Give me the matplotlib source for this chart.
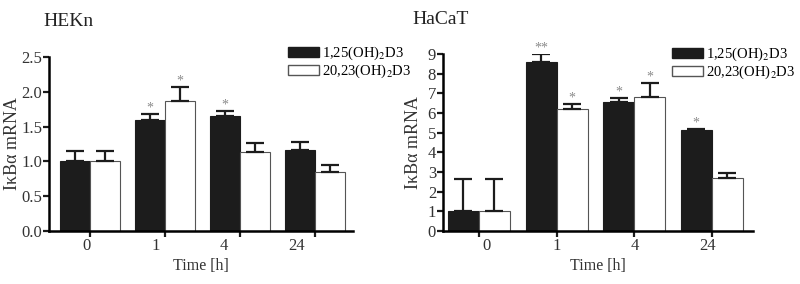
import matplotlib.pyplot as plt
from matplotlib.patches import Patch
import numpy as np

plt.rcParams['font.family'] = ['Liberation Serif', 'DejaVu Serif']
plt.rcParams['mathtext.fontset'] = 'stix'

times = ['0', '1', '4', '24']
series = ['1,25(OH)$_2$D3', '20,23(OH)$_2$D3']

hekn_d125 = [1.0, 1.60, 1.65, 1.16]
hekn_d125_err = [0.15, 0.08, 0.07, 0.12]
hekn_d2023 = [1.0, 1.87, 1.13, 0.85]
hekn_d2023_err = [0.15, 0.20, 0.14, 0.10]
hekn_stars_125 = ['', '*', '*', '']
hekn_stars_2023 = ['', '*', '', '']

hacat_d125 = [1.0, 8.58, 6.58, 5.15]
hacat_d125_err = [1.65, 0.42, 0.17, 0.06]
hacat_d2023 = [1.0, 6.2, 6.8, 2.67]
hacat_d2023_err = [1.65, 0.28, 0.74, 0.28]
hacat_stars_125 = ['', '**', '*', '*']
hacat_stars_2023 = ['', '*', '*', '']

fig = plt.figure(figsize=(8, 2.84), dpi=100)


def panel(rect, title, title_xy, ylab_x, v1, e1, v2, e2, s1, s2, ymax, yticks, yfmt, xlim, leg_xy,
          star_off, label_shift):
    ax = fig.add_axes(rect)
    x = np.arange(len(times))
    w = 0.4
    ax.bar(x - w / 2, v1, w, color='#1c1c1c', edgecolor='#1c1c1c', linewidth=0.8, zorder=2)
    ax.bar(x + w / 2, v2, w, color='white', edgecolor='#555555', linewidth=0.8, zorder=2)
    ax.errorbar(x - w / 2, v1, yerr=[np.zeros(4), e1], fmt='none', ecolor='#1c1c1c',
                elinewidth=1.6, capsize=6.5, capthick=1.6, zorder=3)
    ax.errorbar(x + w / 2, v2, yerr=[np.zeros(4), e2], fmt='none', ecolor='#1c1c1c',
                elinewidth=1.6, capsize=6.5, capthick=1.6, zorder=3)
    for i in range(4):
        if s1[i]:
            ax.text(x[i] - w / 2, v1[i] + e1[i] + star_off, s1[i], ha='center', va='center',
                    color='#8a8a8a', fontsize=10)
        if s2[i]:
            ax.text(x[i] + w / 2, v2[i] + e2[i] + star_off, s2[i], ha='center', va='center',
                    color='#8a8a8a', fontsize=10)
    ax.set_xlim(*xlim)
    ax.set_ylim(0, ymax)
    ax.set_yticks(yticks)
    ax.set_yticklabels([yfmt.format(t) for t in yticks], fontsize=12)
    # tick marks at the group centres, labels slightly offset as in the scanned figure
    ax.set_xticks(x)
    ax.set_xticklabels([])
    ax.set_xticks(x + np.array(label_shift), minor=True)
    ax.set_xticklabels(times, minor=True, fontsize=12)
    ax.spines['top'].set_visible(False)
    ax.spines['right'].set_visible(False)
    ax.spines['left'].set_linewidth(1.8)
    ax.spines['bottom'].set_linewidth(1.8)
    ax.tick_params(axis='both', direction='out', length=4, width=1.6, pad=1, colors='#1c1c1c',
                   labelcolor='#333333')
    ax.tick_params(axis='x', which='minor', length=0, pad=5, labelcolor='#333333')
    ax.set_xlabel('Time [h]', fontsize=11.5, labelpad=3, color='#333333')
    fig.text(ylab_x, rect[1] + rect[3] / 2, 'I\u03baB\u03b1 mRNA', rotation=90, ha='center',
             va='center', fontsize=13, color='#333333')
    fig.text(title_xy[0], title_xy[1], title, fontsize=14, ha='left', va='center', color='#222222')
    handles = [Patch(facecolor='#1c1c1c', edgecolor='#1c1c1c'),
               Patch(facecolor='white', edgecolor='#555555')]
    fig.legend(handles, series, loc='upper left', bbox_to_anchor=leg_xy, frameon=False,
               fontsize=10.5, handlelength=2.1, handleheight=0.6, handletextpad=0.2,
               labelspacing=0.05, borderpad=0, borderaxespad=0)
    return ax


panel([49 / 800, 1 - 231 / 284, 304 / 800, 174 / 284], 'HEKn', (43 / 800, 1 - 22 / 284), 13 / 800,
      hekn_d125, hekn_d125_err, hekn_d2023, hekn_d2023_err, hekn_stars_125, hekn_stars_2023,
      2.5, [0.0, 0.5, 1.0, 1.5, 2.0, 2.5], '{:.1f}', (-0.547, 3.507), (288 / 800, 1 - 45 / 284), 0.09,
      [-0.05, -0.13, -0.21, -0.25])

panel([443 / 800, 1 - 231 / 284, 310 / 800, 177 / 284], 'HaCaT', (412 / 800, 1 - 20 / 284), 413 / 800,
      hacat_d125, hacat_d125_err, hacat_d2023, hacat_d2023_err, hacat_stars_125, hacat_stars_2023,
      9, list(range(10)), '{:d}', (-0.463, 3.53), (672 / 800, 1 - 46 / 284), 0.3,
      [0.1, 0.003, 0.003, -0.05])

fig.savefig('out.png', dpi=100)
